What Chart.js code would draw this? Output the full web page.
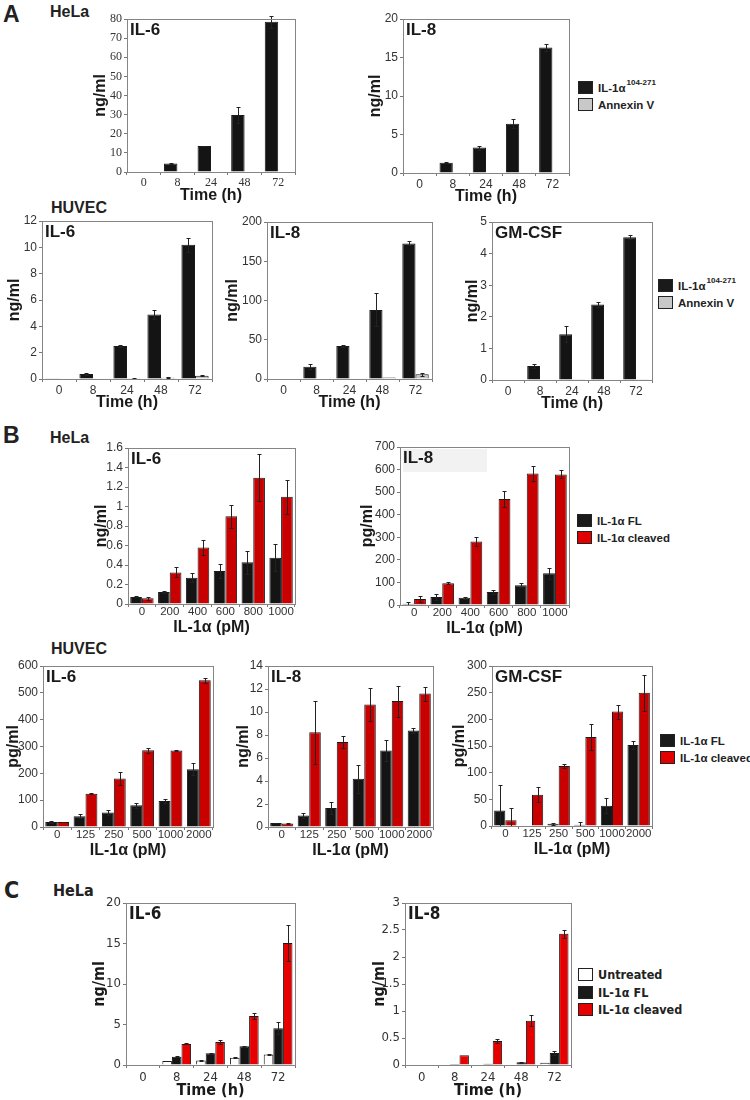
<!DOCTYPE html>
<html>
<head>
<meta charset="utf-8">
<script src="https://cdn.jsdelivr.net/npm/chart.js@4.4.1/dist/chart.umd.min.js"></script>
<style>
  body { margin: 0; background: #fff; width: 750px; height: 1100px; position: relative; overflow: hidden;
         font-family: "Liberation Sans", Arial, sans-serif; color: #222; }
  .lbl { position: absolute; font-weight: bold; line-height: 1; white-space: nowrap; }
  .leg { position: absolute; font-weight: bold; font-size: 11.5px; white-space: nowrap; }
  .leg > div { display: flex; align-items: center; height: 17px; }
  .sw { display: inline-block; width: 15px; height: 13px; border: 1px solid #222; box-sizing: border-box; margin-right: 5px; }
  .narrow { font-family: "Liberation Sans Narrow", "DejaVu Sans Condensed", "Liberation Sans", sans-serif; }
  .sup { font-size: 8px; position: relative; top: -5px; margin-left: 1px; }
</style>
</head>
<body>

<div class="lbl" style="left:3px;top:3px;font-size:23px">A</div>
<div class="lbl" style="left:50px;top:4px;font-size:16px">HeLa</div>
<div class="lbl" style="left:51px;top:200px;font-size:16px">HUVEC</div>
<div class="lbl" style="left:3px;top:424px;font-size:23px">B</div>
<div class="lbl" style="left:50px;top:430px;font-size:16px">HeLa</div>
<div class="lbl" style="left:51px;top:641px;font-size:16px">HUVEC</div>
<div class="lbl narrow" style="left:4px;top:879px;font-size:23px">C</div>
<div class="lbl narrow" style="left:53px;top:883px;font-size:16px">HeLa</div>

<div class="leg" style="left:578px;top:79px">
  <div><span class="sw" style="background:#1a1a1a"></span>IL-1α<span class="sup">104-271</span></div>
  <div><span class="sw" style="background:#c8c8c8"></span>Annexin V</div>
</div>
<div class="leg" style="left:658px;top:277px">
  <div><span class="sw" style="background:#1a1a1a"></span>IL-1α<span class="sup">104-271</span></div>
  <div><span class="sw" style="background:#c8c8c8"></span>Annexin V</div>
</div>
<div class="leg" style="left:577px;top:512px">
  <div><span class="sw" style="background:#1a1a1a"></span>IL-1α FL</div>
  <div><span class="sw" style="background:#e00000"></span>IL-1α cleaved</div>
</div>
<div class="leg" style="left:660px;top:732px">
  <div><span class="sw" style="background:#1a1a1a"></span>IL-1α FL</div>
  <div><span class="sw" style="background:#e00000"></span>IL-1α cleaved</div>
</div>
<div class="leg narrow" style="left:578px;top:966px;font-size:12.5px">
  <div style="height:17.5px"><span class="sw" style="background:#fff"></span>Untreated</div>
  <div style="height:17.5px"><span class="sw" style="background:#1a1a1a"></span>IL-1α FL</div>
  <div style="height:17.5px"><span class="sw" style="background:#e60000"></span>IL-1α cleaved</div>
</div>

<script>
// categories
const hours = ["0", "8", "24", "48", "72"];
const doseHeLa = ["0", "200", "400", "600", "800", "1000"];
const doseHUVEC = ["0", "125", "250", "500", "1000", "2000"];

// y axes: [min, max, step]
const yA1 = [0, 80, 10];
const yA2 = [0, 20, 5];
const yA3 = [0, 12, 2];
const yA4 = [0, 200, 50];
const yA5 = [0, 5, 1];
const yB1 = [0, 1.6, 0.2];
const yB2 = [0, 700, 100];
const yB3 = [0, 600, 100];
const yB4 = [0, 14, 2];
const yB5 = [0, 300, 50];
const yC1 = [0, 20, 5];
const yC2 = [0, 3, 0.5];

// A - HeLa
const aHelaIL6Il1 = [0, 4.5, 13.6, 29.8, 78.5];
const aHelaIL6Il1Err = [0, 0.3, 0.2, 4.1, 3];
const aHelaIL6Anx = [0, 0.1, 0.3, 0.2, 0.2];
const aHelaIL8Il1 = [0, 1.34, 3.3, 6.4, 16.3];
const aHelaIL8Il1Err = [0, 0.05, 0.26, 0.6, 0.5];
const aHelaIL8Anx = [0.02, 0.03, 0.05, 0.03, 0.05];
// A - HUVEC
const aHuvIL6Il1 = [0.02, 0.38, 2.5, 4.9, 10.2];
const aHuvIL6Il1Err = [0, 0.04, 0.06, 0.33, 0.54];
const aHuvIL6Anx = [0.01, 0.01, 0.05, 0.1, 0.25];
const aHuvIL6AnxErr = [0, 0, 0.02, 0.03, 0.04];
const aHuvIL8Il1 = [0, 15.7, 42, 88, 172.7];
const aHuvIL8Il1Err = [0, 3.4, 1, 21, 2.5];
const aHuvIL8Anx = [0, 0.5, 1, 2, 6];
const aHuvIL8AnxErr = [0, 0, 0, 0, 2];
const aHuvGMIl1 = [0, 0.44, 1.45, 2.39, 4.52];
const aHuvGMIl1Err = [0, 0.06, 0.25, 0.08, 0.06];
const aHuvGMAnx = [0, 0, 0.01, 0, 0.01];

// B - HeLa
const bHelaIL6FL = [0.072, 0.123, 0.27, 0.338, 0.427, 0.474];
const bHelaIL6FLErr = [0.005, 0.01, 0.044, 0.072, 0.116, 0.14];
const bHelaIL6Cl = [0.058, 0.324, 0.58, 0.9, 1.294, 1.099];
const bHelaIL6ClErr = [0.017, 0.051, 0.075, 0.12, 0.242, 0.177];
const bHelaIL8FL = [6, 35.5, 32.6, 57.7, 87, 140.6];
const bHelaIL8FLErr = [6, 13, 4, 9, 9, 23.7];
const bHelaIL8Cl = [26.6, 96, 281, 470, 583, 578.7];
const bHelaIL8ClErr = [12, 4, 21, 34, 34, 18];
// B - HUVEC
const bHuvIL6FL = [18.7, 40, 54, 81, 97, 215];
const bHuvIL6FLErr = [2.5, 7.5, 9, 10, 6, 22];
const bHuvIL6Cl = [19, 124, 181, 286, 285, 547];
const bHuvIL6ClErr = [1, 1, 25, 10, 2, 9];
const bHuvIL8FL = [0.35, 1.0, 1.65, 4.2, 6.65, 8.4];
const bHuvIL8FLErr = [0.03, 0.2, 0.55, 1.2, 0.95, 0.25];
const bHuvIL8Cl = [0.3, 8.25, 7.4, 10.65, 10.95, 11.6];
const bHuvIL8ClErr = [0.05, 2.75, 0.5, 1.4, 1.35, 0.6];
const bHuvGMFL = [29, 0, 4.4, 2.5, 38, 152];
const bHuvGMFLErr = [47, 0, 2, 5, 14, 7];
const bHuvGMCl = [11, 58.5, 112.6, 167, 214.5, 250];
const bHuvGMClErr = [22, 14, 3, 24, 13, 34];

// C - HeLa
const cIL6Untr = [0, 0.5, 0.55, 0.9, 1.3];
const cIL6UntrErr = [0, 0.03, 0.03, 0.05, 0.05];
const cIL6FL = [0, 1.03, 1.44, 2.3, 4.54];
const cIL6FLErr = [0, 0.05, 0.08, 0.1, 0.74];
const cIL6Cl = [0, 2.6, 2.85, 6.06, 15.05];
const cIL6ClErr = [0, 0.06, 0.25, 0.33, 2.27];
const cIL8Untr = [0, 0, 0, 0, 0.04];
const cIL8FL = [0, 0.02, 0.025, 0.05, 0.22];
const cIL8FLErr = [0, 0, 0, 0.01, 0.04];
const cIL8Cl = [0, 0.18, 0.445, 0.82, 2.43];
const cIL8ClErr = [0, 0, 0.04, 0.1, 0.07];

const SANS = "'Liberation Sans', Arial, sans-serif";
const NARROW = "'Liberation Sans Narrow', 'DejaVu Sans Condensed', 'Liberation Sans', sans-serif";
const SERIF = "'Liberation Serif', 'Times New Roman', serif";
const BLACK = "#141414", GREY = "#c4c4c4", RED_B = "#c80000", RED_C = "#e60000";

// draws symmetric error bars from dataset.errors
const errorBars = {
  id: "errorBars",
  afterDatasetsDraw(chart) {
    const ctx = chart.ctx, y = chart.scales.y;
    chart.data.datasets.forEach((ds, i) => {
      if (!ds.errors) return;
      chart.getDatasetMeta(i).data.forEach((bar, j) => {
        const e = ds.errors[j];
        if (!e) return;
        const v = ds.data[j];
        const top = Math.round(y.getPixelForValue(v + e)) + 0.5;
        const bot = Math.round(y.getPixelForValue(Math.max(v - e, 0))) + 0.5;
        const x = Math.round(bar.x) + 0.5;
        ctx.save();
        ctx.strokeStyle = "#222";
        ctx.lineWidth = 1;
        ctx.beginPath();
        ctx.moveTo(x, top); ctx.lineTo(x, bot);
        ctx.moveTo(x - 2, top); ctx.lineTo(x + 2, top);
        ctx.moveTo(x - 2, bot); ctx.lineTo(x + 2, bot);
        ctx.stroke();
        ctx.restore();
      });
    });
  }
};

// grey box round the plot area and the cytokine name inside it
const frame = {
  id: "frame",
  beforeDatasetsDraw(chart, args, o) {
    if (!o.shade) return;
    const { left, top } = chart.chartArea;
    chart.ctx.fillStyle = "#f2f2f2";
    chart.ctx.fillRect(left + o.shade[0], top + o.shade[1], o.shade[2], o.shade[3]);
  },
  afterDraw(chart, args, o) {
    const { left, top, right, bottom } = chart.chartArea;
    const ctx = chart.ctx;
    ctx.save();
    ctx.strokeStyle = "#858585";
    ctx.lineWidth = 1;
    ctx.strokeRect(Math.round(left) + 0.5, Math.round(top) + 0.5, Math.round(right - left), Math.round(bottom - top));
    ctx.fillStyle = "#1a1a1a";
    ctx.font = "bold 17px " + o.family;
    ctx.textBaseline = "alphabetic";
    ctx.fillText(o.text, left + 3, top + 16);
    ctx.restore();
  }
};

function bars(label, data, errors, color, cat) {
  return {
    label, data, errors,
    backgroundColor: color,
    borderColor: "#1a1a1a",
    borderWidth: 1,
    barPercentage: 1,
    categoryPercentage: cat
  };
}

// box = plot area on the page: [left, top, right, bottom]
function panel(box, c) {
  const [l, t, r, b] = box;
  const lh = 16 * 1.2;
  const yW = Math.round(l - c.yTitleX + lh / 2);
  const xH = Math.round(c.xTitleY - b + lh / 2);
  const padT = 10, padR = 8;
  const w = yW + (r - l) + padR, h = padT + (b - t) + xH;
  const cv = document.createElement("canvas");
  cv.width = w; cv.height = h;
  cv.style.cssText = `position:absolute;left:${l - yW}px;top:${t - padT}px;width:${w}px;height:${h}px`;
  document.body.appendChild(cv);

  const tickFont = { family: c.tickFamily || SANS, size: c.tickSize || 12 };
  const xTickFont = { family: c.tickFamily || SANS, size: c.xTickSize || c.tickSize || 12 };
  const titleFont = { family: c.titleFamily || SANS, size: 16, weight: "bold" };
  new Chart(cv.getContext("2d"), {
    type: "bar",
    data: { labels: c.labels, datasets: c.datasets },
    options: {
      responsive: false,
      animation: false,
      layout: { padding: { top: padT, right: padR, left: 0, bottom: 0 } },
      plugins: {
        legend: { display: false },
        tooltip: { enabled: false },
        frame: { text: c.title, family: c.titleFamily || SANS, shade: c.shade }
      },
      scales: {
        x: {
          grid: { offset: true, drawOnChartArea: false, tickLength: 3, color: "#777" },
          border: { display: false },
          ticks: { font: xTickFont, color: "#333", padding: c.xPad, maxRotation: 0, autoSkip: false },
          title: { display: true, text: c.xTitle, font: titleFont, color: "#1a1a1a", padding: 0 },
          afterFit: (s) => { s.height = xH; }
        },
        y: {
          min: c.y[0], max: c.y[1],
          grid: { drawOnChartArea: false, tickLength: 3, color: "#777" },
          border: { display: false },
          ticks: {
            stepSize: c.y[2], font: tickFont, color: "#333", padding: 2,
            callback: (v) => String(+v.toFixed(2))
          },
          title: { display: true, text: c.yTitle, font: titleFont, color: "#1a1a1a", padding: 0 },
          afterFit: (s) => { s.width = yW; }
        }
      }
    },
    plugins: [errorBars, frame]
  });
}

// ---- A ----
panel([127, 19, 295, 172], {
  labels: hours, y: yA1, title: "IL-6", yTitle: "ng/ml", xTitle: "Time (h)",
  yTitleX: 101, xTitleY: 195, xPad: 1, tickFamily: SERIF,
  datasets: [bars("IL-1α", aHelaIL6Il1, aHelaIL6Il1Err, BLACK, 0.8), bars("Annexin V", aHelaIL6Anx, null, GREY, 0.8)]
});
panel([403, 19, 569, 173], {
  labels: hours, y: yA2, title: "IL-8", yTitle: "ng/ml", xTitle: "Time (h)",
  yTitleX: 376, xTitleY: 196, xPad: 1,
  datasets: [bars("IL-1α", aHelaIL8Il1, aHelaIL8Il1Err, BLACK, 0.8), bars("Annexin V", aHelaIL8Anx, null, GREY, 0.8)]
});
panel([42, 221, 212, 379], {
  labels: hours, y: yA3, title: "IL-6", yTitle: "ng/ml", xTitle: "Time (h)",
  yTitleX: 15, xTitleY: 402, xPad: 1,
  datasets: [bars("IL-1α", aHuvIL6Il1, aHuvIL6Il1Err, BLACK, 0.8), bars("Annexin V", aHuvIL6Anx, aHuvIL6AnxErr, GREY, 0.8)]
});
panel([267, 222, 432, 379], {
  labels: hours, y: yA4, title: "IL-8", yTitle: "ng/ml", xTitle: "Time (h)",
  yTitleX: 233, xTitleY: 402, xPad: 1,
  datasets: [bars("IL-1α", aHuvIL8Il1, aHuvIL8Il1Err, BLACK, 0.8), bars("Annexin V", aHuvIL8Anx, aHuvIL8AnxErr, GREY, 0.8)]
});
panel([492, 222, 652, 380], {
  labels: hours, y: yA5, title: "GM-CSF", yTitle: "ng/ml", xTitle: "Time (h)",
  yTitleX: 473, xTitleY: 403, xPad: 1,
  datasets: [bars("IL-1α", aHuvGMIl1, aHuvGMIl1Err, BLACK, 0.8), bars("Annexin V", aHuvGMAnx, null, GREY, 0.8)]
});

// ---- B ----
panel([128, 448, 295, 604], {
  labels: doseHeLa, y: yB1, title: "IL-6", yTitle: "ng/ml", xTitle: "IL-1α (pM)",
  yTitleX: 102, xTitleY: 627, xPad: -2, xTickSize: 11.5,
  datasets: [bars("IL-1α FL", bHelaIL6FL, bHelaIL6FLErr, BLACK, 0.84), bars("IL-1α cleaved", bHelaIL6Cl, bHelaIL6ClErr, RED_B, 0.84)]
});
panel([400, 447, 569, 605], {
  labels: doseHeLa, y: yB2, title: "IL-8", yTitle: "pg/ml", xTitle: "IL-1α (pM)",
  yTitleX: 368, xTitleY: 628, xPad: -2, xTickSize: 11.5, shade: [3, 2, 84, 23],
  datasets: [bars("IL-1α FL", bHelaIL8FL, bHelaIL8FLErr, BLACK, 0.84), bars("IL-1α cleaved", bHelaIL8Cl, bHelaIL8ClErr, RED_B, 0.84)]
});
panel([43, 666, 213, 827], {
  labels: doseHUVEC, y: yB3, title: "IL-6", yTitle: "pg/ml", xTitle: "IL-1α (pM)",
  yTitleX: 14, xTitleY: 850, xPad: -2, xTickSize: 11.5,
  datasets: [bars("IL-1α FL", bHuvIL6FL, bHuvIL6FLErr, BLACK, 0.84), bars("IL-1α cleaved", bHuvIL6Cl, bHuvIL6ClErr, RED_B, 0.84)]
});
panel([268, 666, 433, 827], {
  labels: doseHUVEC, y: yB4, title: "IL-8", yTitle: "ng/ml", xTitle: "IL-1α (pM)",
  yTitleX: 244, xTitleY: 850, xPad: -2, xTickSize: 11.5,
  datasets: [bars("IL-1α FL", bHuvIL8FL, bHuvIL8FLErr, BLACK, 0.84), bars("IL-1α cleaved", bHuvIL8Cl, bHuvIL8ClErr, RED_B, 0.84)]
});
panel([492, 666, 652, 826], {
  labels: doseHUVEC, y: yB5, title: "GM-CSF", yTitle: "pg/ml", xTitle: "IL-1α (pM)",
  yTitleX: 460, xTitleY: 849, xPad: -2, xTickSize: 11.5,
  datasets: [bars("IL-1α FL", bHuvGMFL, bHuvGMFLErr, BLACK, 0.84), bars("IL-1α cleaved", bHuvGMCl, bHuvGMClErr, RED_B, 0.84)]
});

// ---- C ----
panel([126, 903, 295, 1065], {
  labels: hours, y: yC1, title: "IL-6", yTitle: "ng/ml", xTitle: "Time (h)",
  yTitleX: 100, xTitleY: 1090, xPad: 2, tickFamily: NARROW, tickSize: 13, titleFamily: NARROW,
  datasets: [bars("Untreated", cIL6Untr, cIL6UntrErr, "#fff", 0.85), bars("IL-1α FL", cIL6FL, cIL6FLErr, BLACK, 0.85), bars("IL-1α cleaved", cIL6Cl, cIL6ClErr, RED_C, 0.85)]
});
panel([405, 903, 571, 1065], {
  labels: hours, y: yC2, title: "IL-8", yTitle: "ng/ml", xTitle: "Time (h)",
  yTitleX: 380, xTitleY: 1090, xPad: 2, tickFamily: NARROW, tickSize: 13, titleFamily: NARROW,
  datasets: [bars("Untreated", cIL8Untr, null, "#fff", 0.85), bars("IL-1α FL", cIL8FL, cIL8FLErr, BLACK, 0.85), bars("IL-1α cleaved", cIL8Cl, cIL8ClErr, RED_C, 0.85)]
});
</script>
</body>
</html>
